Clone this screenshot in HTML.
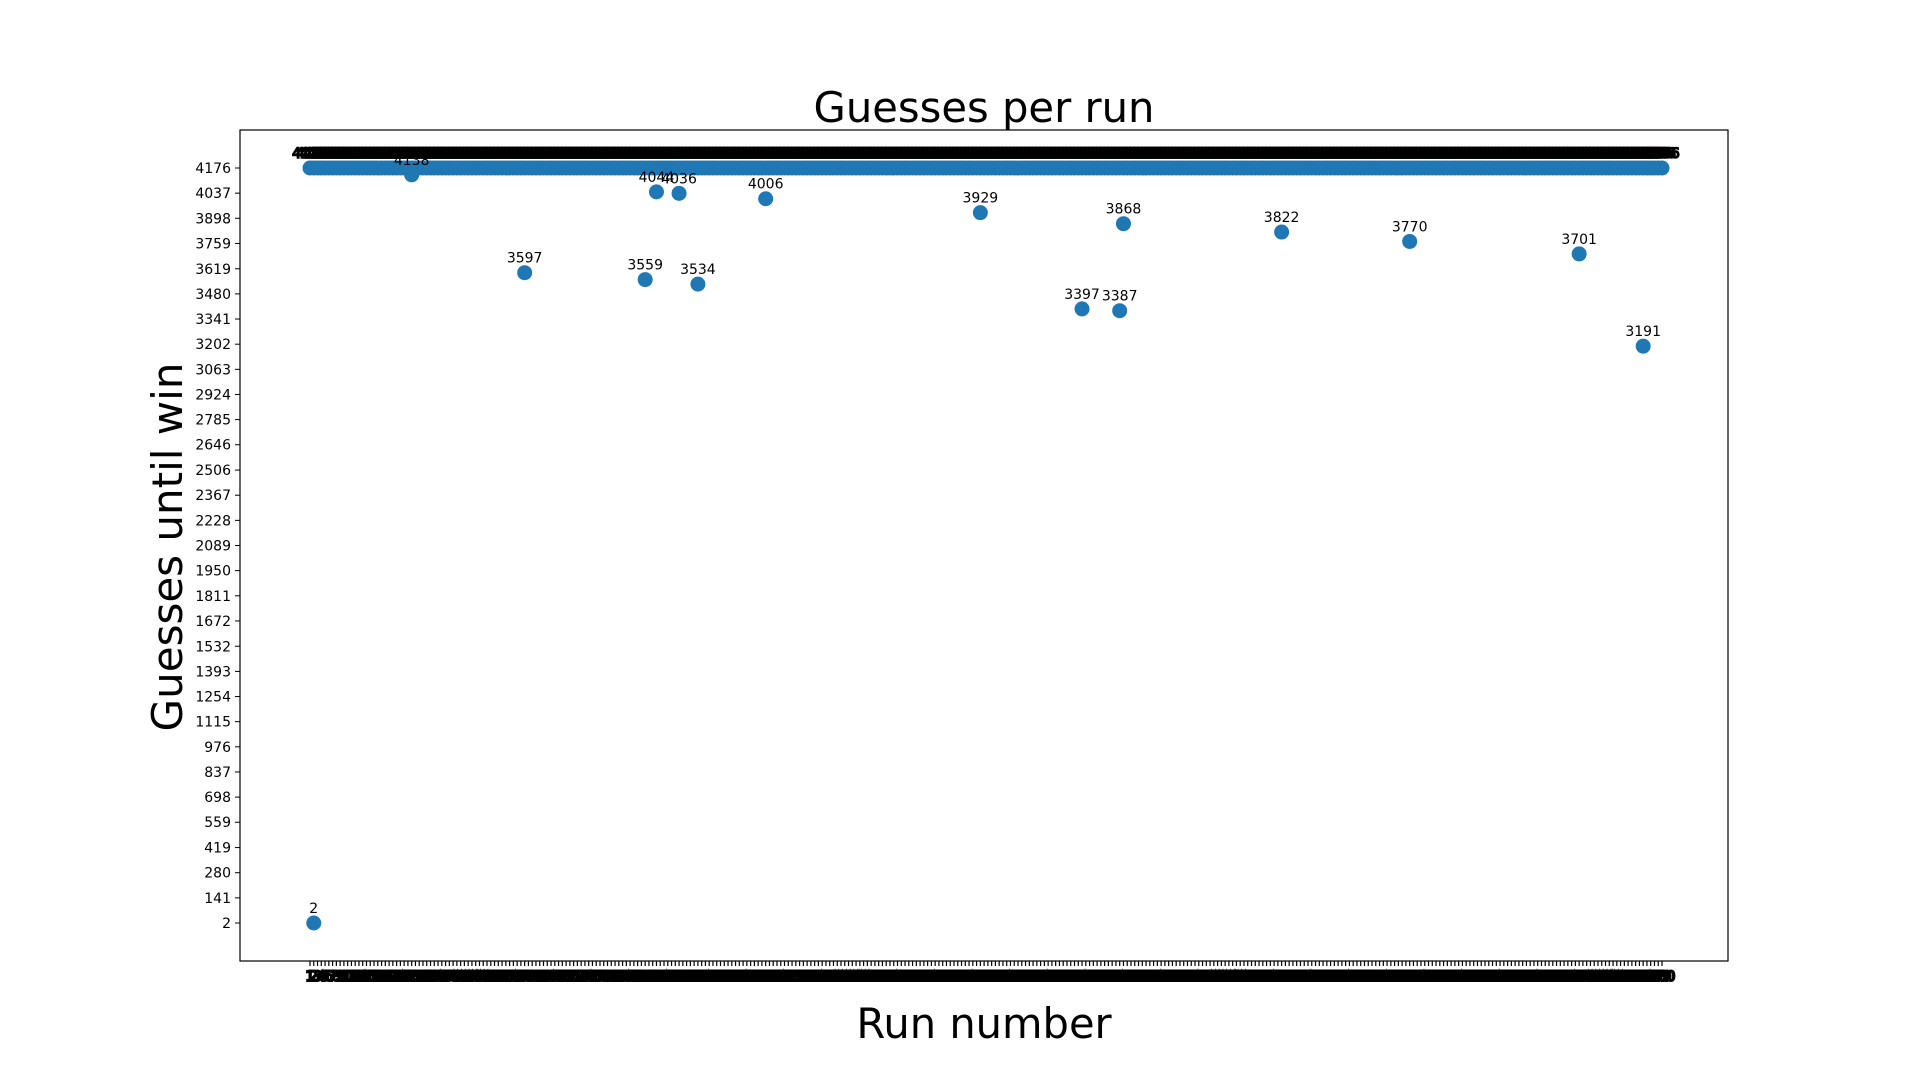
<!DOCTYPE html>
<html><head><meta charset="utf-8"><style>
html,body{margin:0;padding:0;background:#fff;}
svg{display:block;font-family:"DejaVu Sans","Liberation Sans",sans-serif;}
</style></head><body>
<svg id="chart" width="1920" height="1080" viewBox="0 0 1920 1080" xmlns="http://www.w3.org/2000/svg">
<rect x="0" y="0" width="1920" height="1080" fill="#fff"/>
<text x="984" y="122" font-size="41.7" text-anchor="middle">Guesses per run</text>
<text x="984" y="1038" font-size="41.6" text-anchor="middle">Run number</text>
<text transform="translate(182,547) rotate(-90)" font-size="42" text-anchor="middle">Guesses until win</text>
<g id="xticks"></g>
<g id="yticks"></g>
<g id="points"></g>
<g id="labels"></g>
<rect x="240" y="130" width="1488" height="831" fill="none" stroke="#000" stroke-width="1.2"/>
</svg>
<script>
const runCount = 360;
const baseValue = 4176;
const outlierRuns = [2, 28, 58, 90, 93, 99, 104, 122, 179, 206, 216, 217, 259, 293, 338, 355];
const outlierValues = [2, 4138, 3597, 3559, 4044, 4036, 3534, 4006, 3929, 3397, 3387, 3868, 3822, 3770, 3701, 3191];
const yTickLabels = [2,141,280,419,559,698,837,976,1115,1254,1393,1532,1672,1811,1950,2089,2228,2367,2506,2646,2785,2924,3063,3202,3341,3480,3619,3759,3898,4037,4176];

const NS = "http://www.w3.org/2000/svg";
const X0 = 310, X1 = 1662, Y0 = 923, Y1 = 168;
const xScale = r => X0 + (r - 1) * (X1 - X0) / (runCount - 1);
const yScale = v => Y0 - (v - 2) * (Y0 - Y1) / (4176 - 2);
function mk(tag, attrs, parent){const e=document.createElementNS(NS,tag);for(const k in attrs)e.setAttribute(k,attrs[k]);parent.appendChild(e);return e;}

const yg = document.getElementById('yticks');
yTickLabels.forEach(v => {
  const y = yScale(v);
  const l = mk('line', {x1:235, x2:240, y1:y, y2:y, stroke:'#000', 'stroke-width':1}, yg);
  
  
  const t = mk('text', {x:231, y:y+5, 'font-size':14, 'text-anchor':'end'}, yg);
  
  
  t.textContent = v;
});

const xg = document.getElementById('xticks');
for (let r = 1; r <= runCount; r++) {
  const x = xScale(r);
  const l = mk('line', {x1:x, x2:x, y1:961, y2:966, stroke:'#000', 'stroke-width':1.2}, xg);
  
  
  const t = mk('text', {x:x, y:981, 'font-size':14, 'text-anchor':'middle', stroke:'#000', 'stroke-width':2}, xg);
  
  
  t.textContent = r;
}

const pg = document.getElementById('points');
const lg = document.getElementById('labels');
function addPoint(run, v) {
  const x = xScale(run), y = yScale(v);
  const c = mk('circle', {cx:x, cy:y, r:7.5, fill:'#1f77b4'}, pg);
  
  
  const t = mk('text', {x:x, y:y-10, 'font-size':14, 'text-anchor':'middle'}, lg);
  if (v === baseValue) { t.setAttribute('stroke', '#000'); t.setAttribute('stroke-width', '1.5'); }
  
  
  t.textContent = v;
}
for (let r = 1; r <= runCount; r++) addPoint(r, baseValue);
outlierRuns.forEach((r, i) => addPoint(r, outlierValues[i]));
</script>
</body></html>
